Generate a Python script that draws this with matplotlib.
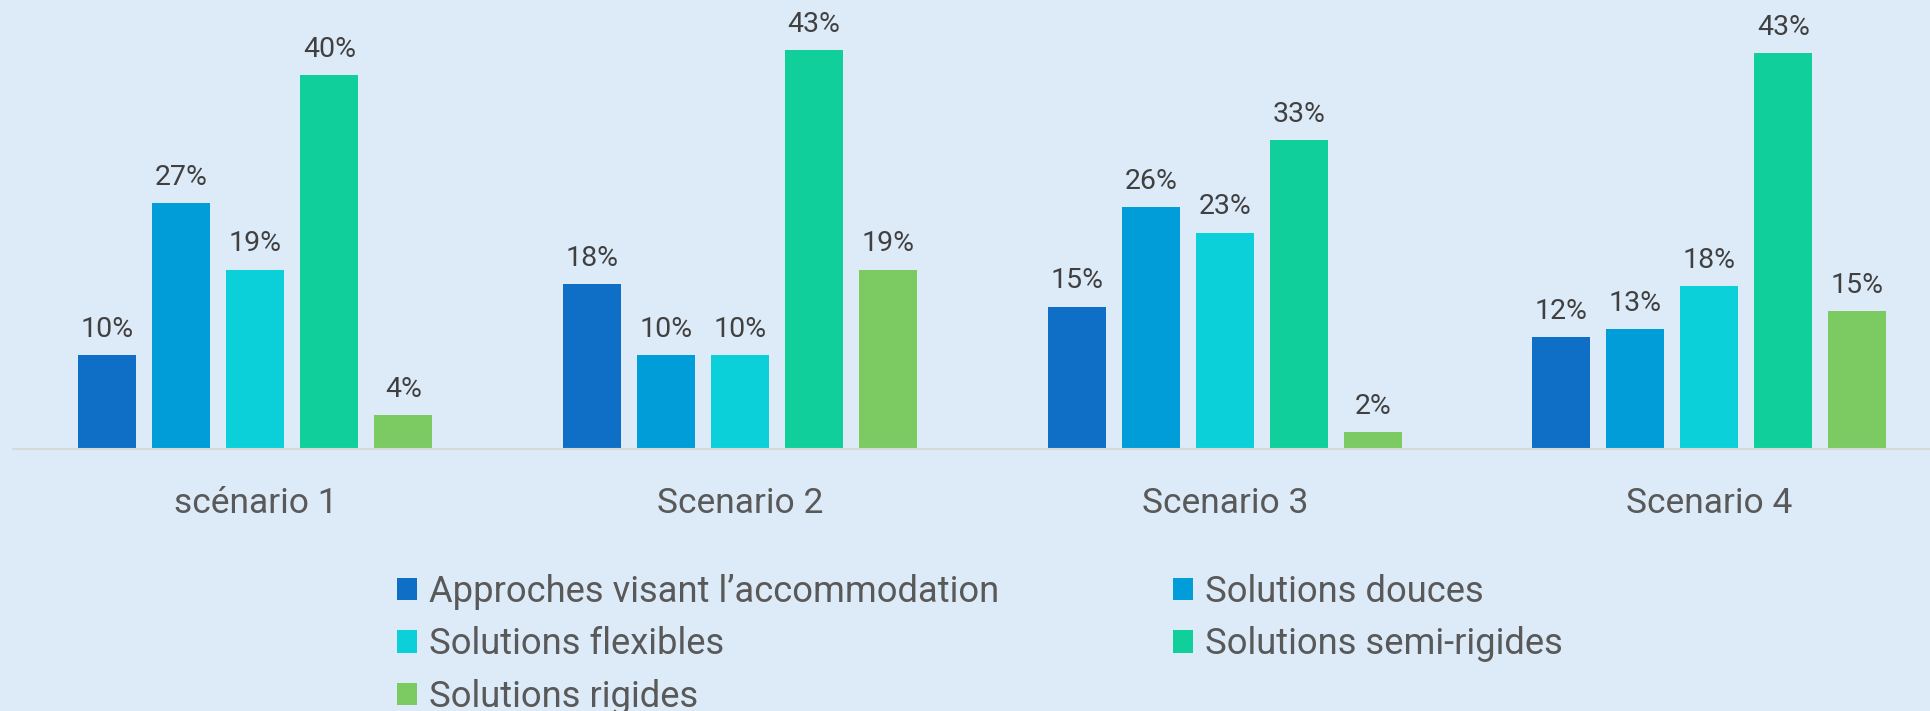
import matplotlib
matplotlib.use("Agg")
import matplotlib.pyplot as plt
import numpy as np

categories = ["scénario 1", "Scenario 2", "Scenario 3", "Scenario 4"]
series_names = [
    "Approches visant l\u2019accommodation",
    "Solutions douces",
    "Solutions flexibles",
    "Solutions semi-rigides",
    "Solutions rigides",
]
accommodation = [10.2, 17.8, 15.4, 12.1]
douces = [26.6, 10.2, 26.2, 13.0]
flexibles = [19.4, 10.2, 23.4, 17.6]
semi_rigides = [40.4, 43.1, 33.4, 42.8]
rigides = [3.7, 19.4, 1.8, 14.9]
series_values = [accommodation, douces, flexibles, semi_rigides, rigides]
colors = ["#0F6FC6", "#009DD9", "#0BD0D9", "#10CF9B", "#7CCA62"]

BG = "#DDEBF9"
W, H, DPI = 1931, 711, 100
fig = plt.figure(figsize=(W / DPI, H / DPI), dpi=DPI, facecolor=BG)
plt.rcParams["font.family"] = ["Roboto", "DejaVu Sans"]

base_px = 449
left_px = 13
ax = fig.add_axes([left_px / W, (H - base_px) / H, 1 - left_px / W, base_px / H])
ax.set_facecolor(BG)
scale_px = 484.7
ax.set_xlim(-0.5, -0.5 + (W - left_px) / scale_px)
ax.set_ylim(0, base_px / 9.25)

x = np.arange(len(categories))
pitch = 0.1527
width = 0.1197
handles = []
for i, (name, vals, c) in enumerate(zip(series_names, series_values, colors)):
    xs = x + (i - 2) * pitch
    bars = ax.bar(xs, vals, width=width, color=c, label=name, zorder=2)
    handles.append(bars)
    for xi, v in zip(xs, vals):
        ax.annotate(f"{v:.0f}%", (xi, v), xytext=(0, 13), textcoords="offset points",
                    ha="center", va="baseline", fontsize=20.5, color="#404040")

for xi, cat in zip(x, categories):
    ax.annotate(cat, (xi, 0), xytext=(0, -46), textcoords="offset points",
                ha="center", va="baseline", fontsize=25.5, color="#595959",
                annotation_clip=False)

for s in ["top", "right", "left"]:
    ax.spines[s].set_visible(False)
ax.spines["bottom"].set_color("#D9D9D9")
ax.spines["bottom"].set_linewidth(1.5)
ax.spines["bottom"].set_zorder(3)
ax.set_xticks([])
ax.set_yticks([])

order = [0, 2, 4, 1, 3]  # row-major reading order in a 2-column legend
leg = fig.legend([handles[k] for k in order], [series_names[k] for k in order],
                 loc="upper left", bbox_to_anchor=(397 / W, 1 - 574 / H), ncol=2,
                 frameon=False, fontsize=26.2, borderpad=0, borderaxespad=0,
                 handlelength=0.54, handleheight=0.57, handletextpad=0.34,
                 labelspacing=0.45, columnspacing=4.78)
for t in leg.get_texts():
    t.set_color("#595959")

fig.savefig("out.png", dpi=DPI, facecolor=BG)
